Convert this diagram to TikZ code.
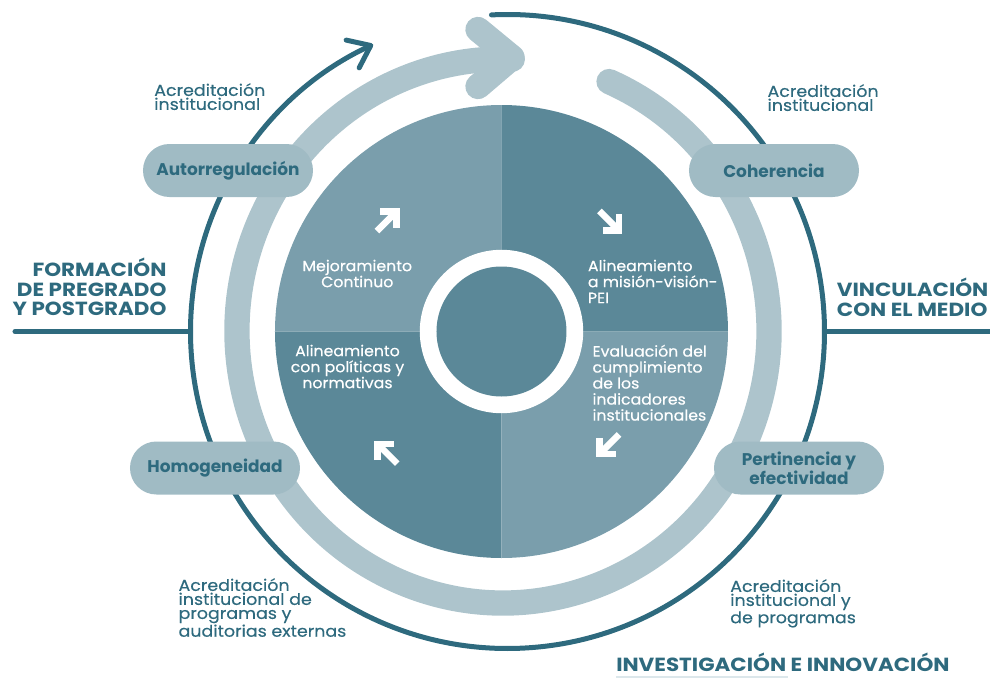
\documentclass[tikz,border=0pt]{standalone}
\usepackage{fontspec}
\setmainfont{Poppins}
\newfontfamily\headfont{Poppins}[FakeStretch=1.13]
\newfontfamily\labelfont{Poppins}[FakeStretch=1.09, FakeBold=0.4]
\newfontfamily\quadfont{Poppins}[FakeStretch=1.05, FakeBold=0.4]
\usetikzlibrary{arrows.meta}
\definecolor{tealdark}{HTML}{2E6A7E}
\definecolor{quadlight}{HTML}{7A9EAC}
\definecolor{quaddark}{HTML}{5B8898}
\definecolor{bandgray}{HTML}{ADC4CC}
\definecolor{pillgray}{HTML}{A0BBC4}
\definecolor{faintline}{HTML}{DCE7EB}
\tikzset{
  ringline/.style={tealdark, line width=3.75pt, line cap=round},
  band/.style={bandgray, line width=19pt, line cap=round, line join=round},
  pill/.style={fill=pillgray, rounded corners=19.8pt, minimum width=127.5pt,
    minimum height=39.75pt, inner sep=0pt, text=tealdark, align=center,
    font=\bfseries\fontsize{12.7}{10}\selectfont},
  heading/.style={text=tealdark, inner sep=0pt, font=\headfont\bfseries\fontsize{14.25}{14.6}\selectfont},
  accred/.style={text=tealdark, inner sep=0pt, align=left, font=\labelfont\fontsize{12}{10.5}\selectfont},
  quadtext/.style={text=white, inner sep=0pt, font=\quadfont\fontsize{11.25}{12}\selectfont},
  turn/.style={white, line width=4.8pt, line join=miter}
}
% bold white arrow inside a quadrant: #1 position, #2 direction
\newcommand{\quadarrow}[2]{%
  \begin{scope}[shift={#1}, rotate=#2]
    \draw[turn] (-15,0) -- (11,0);
    \draw[turn] (1.5,11.5) -- (13,0) -- (1.5,-11.5);
  \end{scope}}
\begin{document}
\begin{tikzpicture}[x=0.75pt, y=0.75pt]
\useasboundingbox (-501.5,-347.5) rectangle (488.5,331.5);

% outer ring with arrow
\draw[ringline, -{Straight Barb[length=15pt, width=23pt, round]}] (6,0) ++(92.9:317) arc (92.9:-244.9:317);
\coordinate (ringW) at (-311,0);
\coordinate (ringE) at (323,0);
\draw[ringline] (-486.5,0) -- (ringW);
\draw[tealdark, line width=3.75pt] (ringE) -- (488.5,0);

% light band with chevron
\draw[band] (1.5,0.5) ++(66.5:266 and 272) arc[start angle=66.5, end angle=-272, x radius=266, y radius=272];
\coordinate (tip) at (10.5,274);
\draw[band] (tip) ++(-34,28) -- (tip) -- ++(-34,-29);

% quadrants
\fill[quadlight] (0,0) -- (90:226.5) arc (90:180:226.5) -- cycle;
\fill[quaddark] (0,0) -- (0:226.5) arc (0:90:226.5) -- cycle;
\fill[quaddark] (0,0) -- (180:226.5) arc (180:270:226.5) -- cycle;
\fill[quadlight] (0,0) -- (270:226.5) arc (270:360:226.5) -- cycle;
\fill[white] (0,0) circle (81.7);
\fill[quaddark] (0,0) circle (65);

% quadrant texts
\node[quadtext, align=center, anchor=north] (mejora) at (-144.2,72) {Mejoramiento\\Continuo};
\node[quadtext, align=left, anchor=north west] (mision) at (86.2,72) {Alineamiento\\a misión-visión-\\PEI};
\node[quadtext, align=center, anchor=north] (politicas) at (-154,-13) {Alineamiento\\con políticas y\\normativas};
\node[quadtext, align=left, anchor=north west] (evaluacion) at (90.8,-13) {Evaluación del\\cumplimiento\\de los\\indicadores\\institucionales};

\quadarrow{(-114,111)}{45}
\quadarrow{(108.5,110)}{-45}
\quadarrow{(107,-113.5)}{-135}
\quadarrow{(-114.8,-121.5)}{135}

% pills
\node[pill] (autorreg) at (-273.5,161) {Autorregulación};
\node[pill] (coherencia) at (272.5,161) {Coherencia};
\node[pill] (homog) at (-286.5,-136.5) {Homogeneidad};
\node[pill] (pertinencia) at (297.5,-136.5) {Pertinencia y\\efectividad};

% accreditation labels
\node[accred, anchor=north west] (accTL) at (-347.5,248.5) {Acreditación\\institucional};
\node[accred, anchor=north west] (accTR) at (265.8,247.5) {Acreditación\\institucional};
\node[accred, anchor=north west] (accBL) at (-323.2,-246.5) {Acreditación\\institucional de\\programas y\\auditorias externas};
\node[accred, anchor=north west] (accBR) at (228.5,-247.5) {Acreditación\\institucional y\\de programas};

% headings
\node[heading, align=right, anchor=north east] (formacion) at (-334.8,73.5) {FORMACIÓN\\DE PREGRADO\\Y POSTGRADO};
\node[heading, align=left, anchor=north west] (vinculacion) at (335.2,53.5) {VINCULACIÓN\\CON EL MEDIO};
\node[heading, anchor=north west] (investigacion) at (114.5,-321.5) {INVESTIGACIÓN E INNOVACIÓN};
\draw[faintline, line width=1.5pt] (114.5,-345.5) -- (286.5,-345.5);
\end{tikzpicture}
\end{document}
